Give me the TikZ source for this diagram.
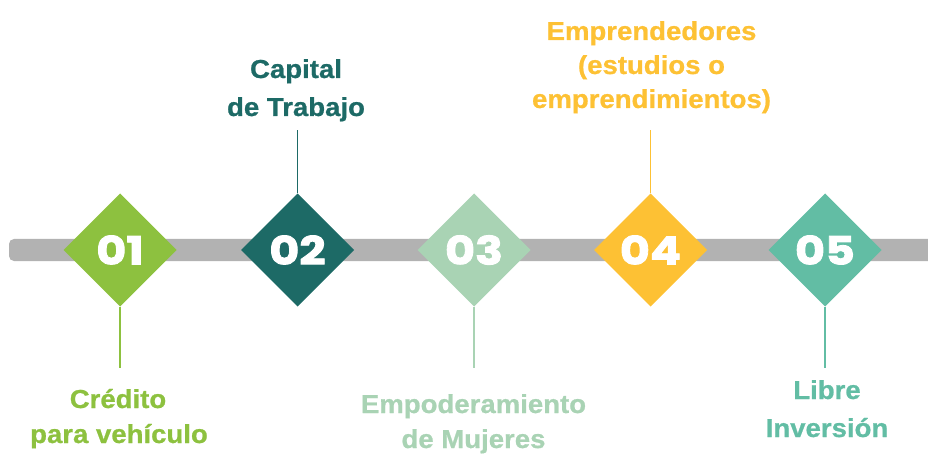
\documentclass[tikz,border=0pt]{standalone}
\usepackage{fontspec}
\newfontfamily\lblfont{Liberation Sans}[FakeStretch=1.06,FakeBold=0.8]
\newfontfamily\numfont{Poppins}[FakeStretch=1.18,FakeBold=2.2]
\definecolor{cA}{HTML}{8DC13F}
\definecolor{cB}{HTML}{1D6A66}
\definecolor{cC}{HTML}{A9D3B4}
\definecolor{cD}{HTML}{FDC134}
\definecolor{cE}{HTML}{62BDA4}
\definecolor{barc}{HTML}{B2B2B2}
\tikzset{
  num/.style={text=white, font=\numfont\bfseries\fontsize{39}{39}\selectfont, anchor=center},
  lbl/.style={text=#1, font=\lblfont\bfseries\fontsize{26}{30}\selectfont, anchor=base, inner sep=0pt},
  conn/.style={draw=#1, line width=1.5pt},
}
\begin{document}
\begin{tikzpicture}[x=1pt,y=-1pt]
\useasboundingbox (0,0) rectangle (928,454);
% bar
\fill[barc, rounded corners=5pt] (9,239) rectangle (940,261);
% diamonds
\foreach \cx/\col/\nm in {120/cA/d1, 297.5/cB/d2, 474/cC/d3, 650.5/cD/d4, 825/cE/d5}{
  \fill[\col] (\cx-56.5,250) -- (\cx,193.5) -- (\cx+56.5,250) -- (\cx,306.5) -- cycle;
  \coordinate (\nm t) at (\cx,193.5);
  \coordinate (\nm b) at (\cx,306.5);
  \coordinate (\nm c) at (\cx,250);
}
\node[num] (n1) at (d1c) {01};
\node[num] (n2) at (d2c) {02};
\node[num] (n3) at (d3c) {03};
\node[num] (n4) at (d4c) {04};
\node[num] (n5) at (d5c) {05};
% connector ends
\coordinate (e1) at (120,368);
\coordinate (e2) at (297.5,130);
\coordinate (e3) at (474,368);
\coordinate (e4) at (650.5,130);
\coordinate (e5) at (825,368);
\draw[conn=cA] (d1b) -- (e1);
\draw[conn=cB] (d2t) -- (e2);
\draw[conn=cC] (d3b) -- (e3);
\draw[conn=cD] (d4t) -- (e4);
\draw[conn=cE] (d5b) -- (e5);
% labels
\node[lbl=cA] (t1a) at (118,408) {Crédito};
\node[lbl=cA] (t1b) at (119,443) {para vehículo};
\node[lbl=cB] (t2a) at (296,78) {Capital};
\node[lbl=cB] (t2b) at (296,116) {de Trabajo};
\node[lbl=cC] (t3a) at (473.5,413) {Empoderamiento};
\node[lbl=cC] (t3b) at (473.5,448) {de Mujeres};
\node[lbl=cD] (t4a) at (651.5,40) {Emprendedores};
\node[lbl=cD] (t4b) at (651.5,74) {(estudios o};
\node[lbl=cD] (t4c) at (651.5,108) {emprendimientos)};
\node[lbl=cE] (t5a) at (827,399) {Libre};
\node[lbl=cE] (t5b) at (827,437) {Inversión};
\end{tikzpicture}
\end{document}
